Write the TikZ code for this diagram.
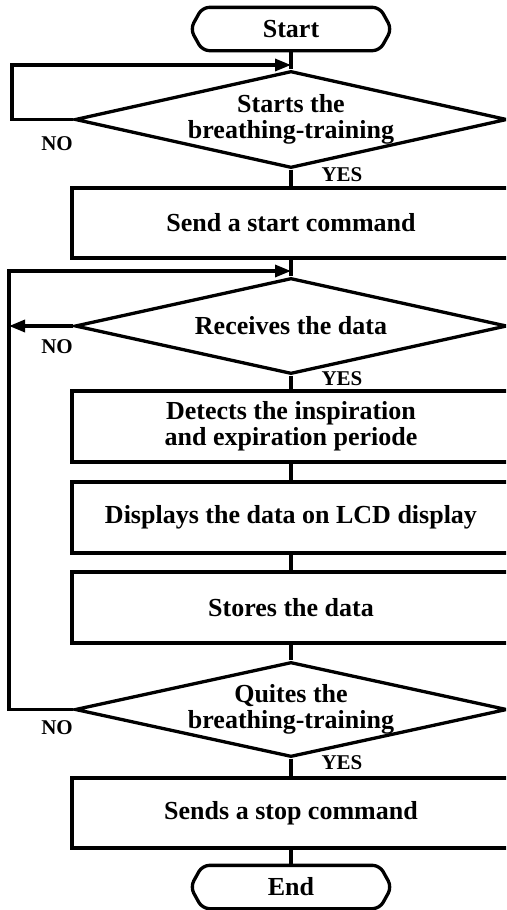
\documentclass[tikz,border=0pt]{standalone}
\usepackage{fontspec}
\setmainfont{Liberation Serif}
\usetikzlibrary{shapes.geometric,arrows.meta}

\begin{document}
\begin{tikzpicture}[x=1pt,y=-1pt,line width=3.3pt,
  txt/.style={font=\fontsize{26}{26}\selectfont\bfseries,align=center,inner sep=0pt},
  procbox/.style={draw,rectangle,minimum width=438pt,inner sep=0pt,txt},
  decbox/.style={draw,diamond,minimum width=432pt,inner sep=0pt},
  termbox/.style={rectangle,minimum width=198pt,minimum height=40pt,inner sep=0pt,txt},
  termline/.style={rounded corners=7pt},
  lbl/.style={font=\fontsize{21}{21}\selectfont\bfseries,inner sep=0pt},
  arr/.style={-{Triangle[length=16pt,width=12pt]}}]

\useasboundingbox (0,0) rectangle (506,910);
\clip (0,0) rectangle (506,910);

% terminals: text nodes with a bulging, rounded outline
\node[termbox] (start) at (291,29) {Start};
\node[termbox] (stop)  at (291,887) {End};
\foreach \t in {start,stop}
  \draw[termline] ([xshift=12pt]\t.north west) -- ([xshift=-12pt]\t.north east)
    -- (\t.east) -- ([xshift=-12pt]\t.south east) -- ([xshift=12pt]\t.south west)
    -- (\t.west) -- cycle;

% decisions (shape and text kept apart so the text does not stretch the diamond)
\node[decbox,minimum height=97pt] (d1) at (291,119.5) {};
\node[txt] (t1) at (d1) {Starts the\\breathing-training};
\node[decbox,minimum height=96pt] (d2) at (291,326) {};
\node[txt] (t2) at (d2) {Receives the data};
\node[decbox,minimum height=95pt] (d3) at (291,709.5) {};
\node[txt] (t3) at (d3) {Quites the\\breathing-training};

% process boxes
\node[procbox,minimum height=70pt] (b1) at (291,223) {Send a start command};
\node[procbox,minimum height=71pt] (b2) at (291,426.5) {Detects the inspiration\\ and expiration periode};
\node[procbox,minimum height=71pt] (b3) at (291,517.5) {Displays the data on LCD display};
\node[procbox,minimum height=71pt] (b4) at (291,607.5) {Stores the data};
\node[procbox,minimum height=70pt] (b5) at (291,813) {Sends a stop command};

% merge points on the main axis
\coordinate (m1) at (291,65);
\coordinate (m2) at (291,271);

% main flow
\draw (start.south) -- (d1.north);
\draw (d1.south) -- (b1.north);
\draw (b1.south) -- (d2.north);
\draw (d2.south) -- (b2.north);
\draw (b2.south) -- (b3.north);
\draw (b3.south) -- (b4.north);
\draw (b4.south) -- (d3.north);
\draw (d3.south) -- (b5.north);
\draw (b5.south) -- (stop.north);

% loops back
\draw[arr] (d1.west) -- (12,119.5) |- (m1);
\coordinate (l2) at (9,326);
\draw[arr] (d2.west) -- (l2);
\draw[arr] (d3.west) -- (9,709.5) |- (m2);

% branch labels
\node[lbl] (no1) at (57,144) {NO};
\node[lbl] (no2) at (57,347) {NO};
\node[lbl] (no3) at (57,728) {NO};
\node[lbl] (yes1) at (342,175) {YES};
\node[lbl] (yes2) at (342,379) {YES};
\node[lbl] (yes3) at (342,763) {YES};
\end{tikzpicture}
\end{document}
